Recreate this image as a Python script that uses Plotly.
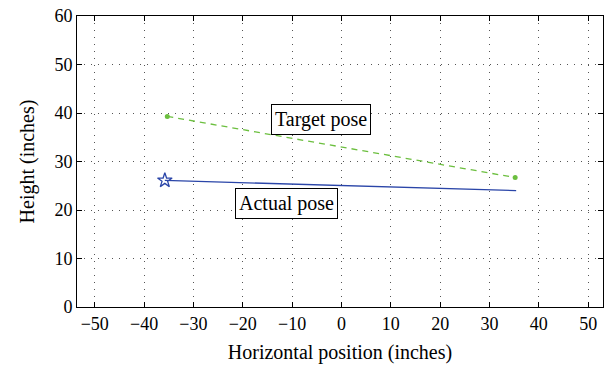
import plotly.graph_objects as go

target_x = [-35.3, 35.2]
target_y = [39.3, 26.7]
actual_x = [-35.8, 35.4]
actual_y = [26.1, 24.0]
x_ticks = [-50, -40, -30, -20, -10, 0, 10, 20, 30, 40, 50]
y_ticks = [0, 10, 20, 30, 40, 50, 60]

FONT = "Liberation Serif"
fig = go.Figure()
fig.add_trace(go.Scatter(x=target_x, y=target_y, mode="lines+markers",
                         line=dict(color="#6cbf3f", width=1.3, dash="6px,5px"),
                         marker=dict(size=5, color="#6cbf3f"), showlegend=False))
fig.add_trace(go.Scatter(x=actual_x, y=actual_y, mode="lines",
                         line=dict(color="#2a45a8", width=1.3), showlegend=False))
fig.add_trace(go.Scatter(x=[actual_x[0]], y=[actual_y[0]], mode="markers",
                         marker=dict(symbol="star-open", size=11, color="#2a45a8",
                                     line=dict(width=1.3, color="#2a45a8")), showlegend=False))

fig.add_annotation(x=-4.2, y=38.6, text="Target pose", showarrow=False,
                   font=dict(family=FONT, size=20, color="black"),
                   bgcolor="white", bordercolor="black", borderwidth=1, borderpad=3)
fig.add_annotation(x=-11.2, y=21.4, text="Actual pose", showarrow=False,
                   font=dict(family=FONT, size=20, color="black"),
                   bgcolor="white", bordercolor="black", borderwidth=1, borderpad=3)

axis_common = dict(showline=True, linecolor="black", linewidth=1, mirror="ticks",
                   ticks="inside", ticklen=5, tickcolor="black",
                   showgrid=True, gridcolor="#555555", gridwidth=1, griddash="1px,6px",
                   zeroline=False, tickfont=dict(family=FONT, size=18, color="black"))
fig.update_xaxes(range=[-53.6, 53.0], tickvals=x_ticks,
                 ticktext=[("\u2212" + str(-v)) if v < 0 else str(v) for v in x_ticks],
                 title=dict(text="Horizontal position (inches)", font=dict(family=FONT, size=20, color="black"),
                            standoff=12), **axis_common)
fig.update_yaxes(range=[0, 60], tickvals=y_ticks,
                 title=dict(text="Height (inches)", font=dict(family=FONT, size=20, color="black"),
                            standoff=14), **axis_common)
fig.update_layout(width=610, height=370, margin=dict(l=77, r=6, t=12, b=63),
                  plot_bgcolor="white", paper_bgcolor="white")
fig.write_html("out.html")
